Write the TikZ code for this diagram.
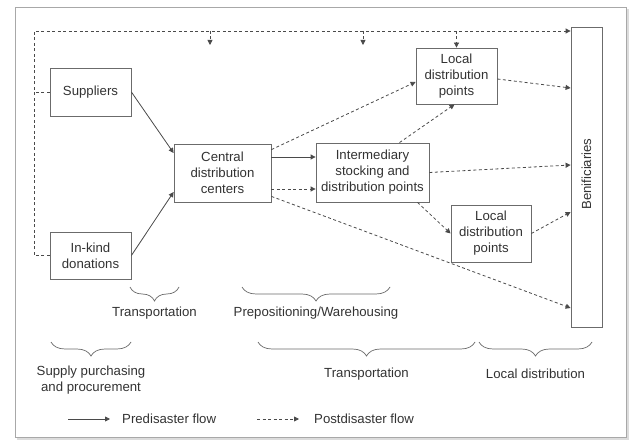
\documentclass[tikz,border=0pt]{standalone}
\usepackage{fontspec}
\setmainfont{Liberation Sans}
\usepackage{tikz}
\usetikzlibrary{arrows.meta,positioning,decorations.pathreplacing,calc}
\definecolor{HLInk}{HTML}{333333}
\definecolor{HLLine}{HTML}{4A4A4A}
\definecolor{HLBox}{HTML}{6B6B6B}
\definecolor{HLFrame}{HTML}{A8A8A8}
\definecolor{HLShade}{HTML}{DCDCDC}

\begin{document}
\begin{tikzpicture}[x=1pt,y=-1pt,
  font=\fontsize{13.2}{16}\selectfont,
  text=HLInk,
  box/.style={draw=HLBox,line width=0.8pt,fill=white,align=center,inner sep=2pt},
  pre/.style={-{Triangle[length=5pt,width=5pt]},line width=0.8pt,draw=HLLine},
  dsh/.style={line width=0.8pt,draw=HLLine,dash pattern=on 3pt off 2.5pt},
  post/.style={dsh,-{Triangle[length=5pt,width=5pt]}},
  brc/.style={decorate,decoration={brace,mirror,amplitude=14pt},line width=0.7pt,draw=HLBox},
  lbl/.style={align=center,inner sep=1pt}
]
\useasboundingbox (0,0) rectangle (630,441);
\fill[HLShade] (17,9) rectangle (629,440);
\draw[HLFrame,fill=white] (15,7) rectangle (626,437);

\node[box,minimum width=81pt,minimum height=48pt] (sup) at (90.5,92) {Suppliers};
\node[box,minimum width=81pt,minimum height=47pt] (kind) at (90.5,255.5) {In-kind\\donations};
\node[box,minimum width=97pt,minimum height=58pt] (cdc) at (222.5,173) {Central\\distribution\\centers};
\node[box,minimum width=113pt,minimum height=59pt] (isdp) at (372.5,172.5) {Intermediary\\stocking and\\distribution points};
\node[box,minimum width=81pt,minimum height=56pt] (ldpa) at (456.5,76) {Local\\distribution\\points};
\node[box,minimum width=80pt,minimum height=57pt] (ldpb) at (491,233.5) {Local\\distribution\\points};
\node[box,minimum width=31pt,minimum height=300pt] (benef) at (586.5,177) {};
\node[rotate=90] (beneftxt) at ([yshift=3pt]benef.center) {Benificiaries};

\coordinate (fbl) at (34,31);
\coordinate (dropa) at (210,45);
\coordinate (dropb) at (363,45);
\draw[post] (kind.west) -| (fbl) -- (fbl -| benef.west);
\draw[dsh] (sup.west) -- (sup.west -| fbl);
\draw[post] (dropa |- fbl) -- (dropa);
\draw[post] (dropb |- fbl) -- (dropb);
\draw[post] (ldpa.north |- fbl) -- (ldpa.north);

\draw[pre] (sup.east) -- ([yshift=20pt]cdc.west);
\draw[pre] (kind.east) -- ([yshift=-19pt]cdc.west);
\draw[pre] ([yshift=16pt]cdc.east) -- ([yshift=16pt]cdc.east -| isdp.west);
\draw[post] ([yshift=-16pt]cdc.east) -- ([yshift=-16pt]cdc.east -| isdp.west);
\draw[post] ([yshift=-6pt]cdc.north east) -- ([yshift=-6pt]ldpa.west);
\draw[post] ([yshift=6pt]cdc.south east) -- ([yshift=-131pt]benef.west);
\draw[post] ([xshift=27pt]isdp.north) -- ([xshift=-2pt]ldpa.south);
\draw[post] (isdp.east) -- ([yshift=12pt]benef.west);
\draw[post] ([xshift=45pt]isdp.south) -- (ldpb.west);
\draw[post] ([yshift=-3pt]ldpa.east) -- ([yshift=89pt]benef.west);
\draw[post] (ldpb.east) -- ([yshift=-35pt]benef.west);

\draw[brc] (130,287) -- (179,287);
\draw[brc] (242,287) -- (390,287);
\draw[brc] (51,342) -- (131,342);
\draw[brc] (258,342) -- (475,342);
\draw[brc] (479,342) -- (592,342);
\node[lbl] (trpa) at (154.5,313) {Transportation};
\node[lbl] (prep) at (316,313) {Prepositioning/Warehousing};
\node[lbl] (spp) at (91,380) {Supply purchasing\\and procurement};
\node[lbl] (trpb) at (366.5,374) {Transportation};
\node[lbl] (locd) at (535.5,374) {Local distribution};

\coordinate (lga) at (68,419);
\coordinate (lgb) at (110,419);
\coordinate (lgc) at (257,419);
\coordinate (lgd) at (299,419);
\draw[pre] (lga) -- (lgb);
\draw[post] (lgc) -- (lgd);
\node[anchor=base west,inner sep=0pt] (lgpre) at (122,423) {Predisaster flow};
\node[anchor=base west,inner sep=0pt] (lgpost) at (314,423) {Postdisaster flow};
\end{tikzpicture}
\end{document}
